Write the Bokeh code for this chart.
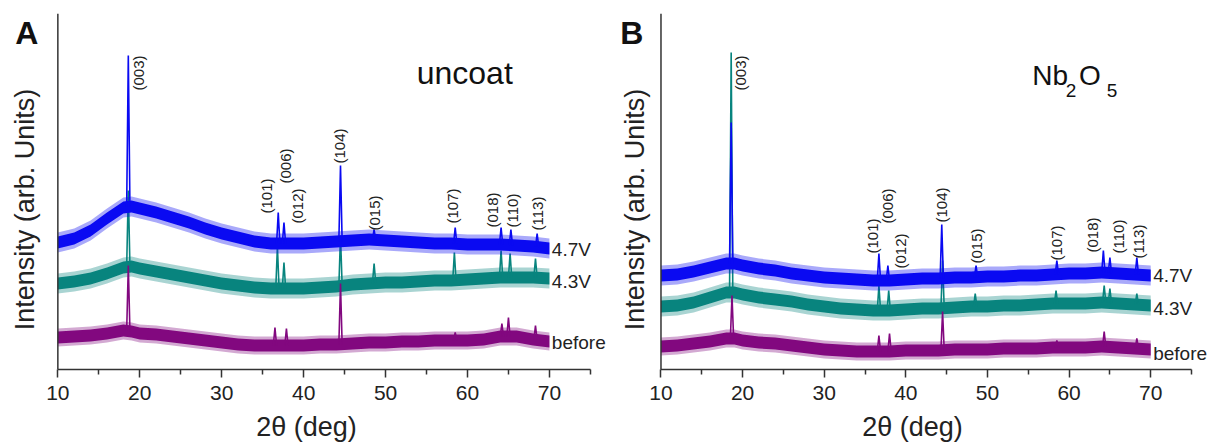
import numpy as np
from bokeh.plotting import figure
from bokeh.layouts import row
from bokeh.models import Label, FixedTicker, Range1d, Span
from bokeh.embed import file_html
from bokeh.resources import INLINE

# ---------------- data (2theta in deg, intensity in arb. units incl. offsets) ----
two_theta = [10, 12, 14, 16, 18, 19, 20, 22, 24, 26, 28, 30, 32, 34, 36, 38,
             40, 42, 44, 46, 48, 50, 52, 54, 56, 58, 60, 62, 64, 66, 68, 70]

# panel A (uncoat) background curves
a_47 = [127, 131, 139, 151, 162, 163, 161, 157, 152, 147, 141, 136, 132, 128, 126, 126,
        126, 127, 128, 129, 130, 129, 128, 127, 126, 126, 125, 125, 125, 124, 123, 121]
a_43 = [86, 88, 91, 96, 102, 103, 101, 98, 95, 92, 89, 86, 84, 82, 81, 81,
        81, 82, 83, 85, 86, 87, 87, 88, 89, 89, 90, 91, 92, 92, 92, 91]
a_bef = [32, 33, 34, 36, 39, 38, 36, 35, 33, 31, 29, 27, 25, 24, 24, 24,
         24, 25, 25, 26, 27, 27, 28, 28, 29, 29, 29, 30, 33, 33, 30, 28]

# panel B (Nb2O5) background curves
b_47 = [94, 95, 98, 102, 106, 106, 104, 101, 99, 96, 94, 92, 91, 90, 89, 89,
        90, 91, 91, 92, 92, 93, 93, 94, 94, 95, 96, 96, 97, 96, 95, 94]
b_43 = [63, 64, 67, 72, 77, 77, 75, 72, 70, 68, 65, 63, 61, 60, 59, 59,
        60, 61, 61, 62, 63, 63, 64, 64, 65, 66, 66, 66, 67, 66, 65, 64]
b_bef = [23, 24, 26, 28, 31, 31, 29, 27, 26, 24, 22, 20, 19, 18, 18, 18,
         19, 19, 19, 20, 20, 20, 21, 21, 21, 22, 22, 22, 23, 22, 21, 20]

# noise band: dense core and fuzzy outer half-widths
noise_core = [6, 6, 6]
noise_outer = [10, 10, 9]

# peaks: positions and top intensities
pk_a_47_x = [18.6, 36.9, 37.6, 44.5, 48.6, 58.5, 64.1, 65.3, 68.5]
pk_a_47_y = [314, 157, 147, 204, 140, 142, 142, 140, 136]
pk_a_43_x = [18.6, 36.8, 37.6, 44.5, 48.6, 58.4, 64.1, 65.2, 68.3]
pk_a_43_y = [179, 123, 107, 134, 106, 117, 119, 116, 111]
pk_a_bef_x = [18.6, 36.5, 37.9, 44.5, 58.5, 64.2, 65.0, 68.3]
pk_a_bef_y = [104, 42, 41, 86, 37, 46, 52, 44]

pk_b_47_x = [18.6, 36.7, 37.8, 44.4, 48.6, 58.5, 64.2, 65.0, 68.3]
pk_b_47_y = [247, 116, 104, 145, 104, 109, 119, 112, 112]
pk_b_43_x = [18.6, 36.7, 37.9, 44.5, 48.5, 58.4, 64.3, 65.0, 68.3]
pk_b_43_y = [317, 84, 79, 109, 76, 79, 84, 81, 76]
pk_b_bef_x = [18.7, 36.7, 38.0, 44.5, 58.5, 64.3, 68.3]
pk_b_bef_y = [74, 34, 36, 58, 29, 38, 31]

hkl = ["(003)", "(101)", "(006)", "(012)", "(104)", "(015)", "(107)", "(018)", "(110)", "(113)"]
hkl_a_x = [19.9, 35.5, 37.8, 39.3, 44.4, 48.6, 58.2, 63.0, 65.5, 68.5]
hkl_a_y = [279, 156, 186, 146, 206, 139, 146, 142, 142, 139]
hkl_b_x = [19.8, 35.9, 37.7, 39.4, 44.4, 48.6, 58.4, 62.9, 66.1, 68.5]
hkl_b_y = [279, 116, 146, 101, 147, 106, 109, 117, 116, 111]

series_names = ["4.7V", "4.3V", "before"]
series_lab_a_y = [120, 88, 27]
series_lab_b_y = [94, 61, 16]

x_major = [10, 20, 30, 40, 50, 60, 70]
x_minor = [15, 25, 35, 45, 55, 65, 75]

# ---------------- style ----------------
COLORS = ["#0a0af2", "#08847e", "#82087f"]   # 4.7V, 4.3V, before
FONT = "Liberation Sans"
TXT = "#222222"
AX = "#333333"


def make_panel(width, x_start, x_end, curves, peaks, hkl_x, hkl_y, lab_y,
               letter, letter_x, ylab_x):
    p = figure(width=width, height=446, output_backend="svg", toolbar_location=None,
               x_range=Range1d(x_start, x_end), y_range=Range1d(0, 356),
               min_border_left=0, min_border_right=0,
               min_border_top=13, min_border_bottom=77)
    p.outline_line_color = None
    p.grid.visible = False
    p.background_fill_color = "white"
    p.border_fill_color = "white"

    # x axis
    xa = p.xaxis[0]
    xa.bounds = (10, 75)
    xa.ticker = FixedTicker(ticks=x_major, minor_ticks=x_minor)
    xa.axis_line_color = AX
    xa.axis_line_width = 1.5
    xa.major_tick_line_color = AX
    xa.minor_tick_line_color = AX
    xa.major_tick_line_width = 1.5
    xa.minor_tick_line_width = 1.5
    xa.major_tick_in = 0
    xa.major_tick_out = 8
    xa.minor_tick_in = 0
    xa.minor_tick_out = 5
    xa.major_label_text_font = FONT
    xa.major_label_text_font_size = "21px"
    xa.major_label_text_color = TXT
    xa.major_label_standoff = 8
    xa.axis_label = "2θ (deg)"
    xa.axis_label_text_font = FONT
    xa.axis_label_text_font_size = "27px"
    xa.axis_label_text_font_style = "normal"
    xa.axis_label_text_color = TXT
    xa.axis_label_standoff = 9

    # y axis: plain line at 2theta = 10
    p.yaxis.visible = False
    p.add_layout(Span(location=10, dimension="height", line_color=AX, line_width=1.5))

    order = [1, 0, 2]  # teal, blue, purple drawing order
    for i in order:
        c = np.array(curves[i], dtype=float)
        p.varea(x=two_theta, y1=c - noise_outer[i], y2=c + noise_outer[i],
                fill_color=COLORS[i], fill_alpha=0.35)
        p.varea(x=two_theta, y1=c - noise_core[i], y2=c + noise_core[i],
                fill_color=COLORS[i], fill_alpha=1.0)
        px, py = peaks[i]
        xs, ys = [], []
        for xx, top in zip(px, py):
            base_l = float(np.interp(xx - 0.2, two_theta, c))
            base_r = float(np.interp(xx + 0.2, two_theta, c))
            xs.append([xx - 0.2, xx, xx + 0.2])
            ys.append([base_l, top, base_r])
        p.multi_line(xs=xs, ys=ys, line_color=COLORS[i], line_width=1.6)

    # peak labels
    for t, hx, hy in zip(hkl, hkl_x, hkl_y):
        p.add_layout(Label(x=hx, y=hy, text=t, angle=np.pi / 2, text_align="left",
                           text_baseline="middle", text_font=FONT,
                           text_font_size="15px", text_color=TXT))
    # series labels
    for name, ly in zip(series_names, lab_y):
        p.add_layout(Label(x=70.3, y=ly, text=name, text_align="left",
                           text_baseline="middle", text_font=FONT,
                           text_font_size="19px", text_color=TXT))
    # panel letter
    p.add_layout(Label(x=letter_x, y=355, text=letter, text_align="left",
                       text_baseline="top", text_font=FONT, text_font_style="bold",
                       text_font_size="32px", text_color="#111111"))
    # y axis title
    p.add_layout(Label(x=ylab_x, y=160, text="Intensity (arb. Units)", angle=np.pi / 2,
                       text_align="center", text_baseline="middle", text_font=FONT,
                       text_font_size="27px", text_color=TXT))
    return p


pa = make_panel(612, 3.0, 77.7, [a_47, a_43, a_bef],
                [(pk_a_47_x, pk_a_47_y), (pk_a_43_x, pk_a_43_y), (pk_a_bef_x, pk_a_bef_y)],
                hkl_a_x, hkl_a_y, series_lab_a_y, "A", 4.8, 6.0)
pb = make_panel(600, 4.06, 77.57, [b_47, b_43, b_bef],
                [(pk_b_47_x, pk_b_47_y), (pk_b_43_x, pk_b_43_y), (pk_b_bef_x, pk_b_bef_y)],
                hkl_b_x, hkl_b_y, series_lab_b_y, "B", 5.0, 6.8)

# titles
pa.add_layout(Label(x=53.8, y=297, text="uncoat", text_align="left",
                    text_baseline="alphabetic", text_font=FONT,
                    text_font_size="32px", text_color="#111111"))
pb.add_layout(Label(x=55.5, y=294, text="Nb", text_align="left",
                    text_baseline="alphabetic", text_font=FONT,
                    text_font_size="28px", text_color="#111111"))
pb.add_layout(Label(x=59.6, y=279, text="2", text_align="left",
                    text_baseline="alphabetic", text_font=FONT,
                    text_font_size="19px", text_color="#111111"))
pb.add_layout(Label(x=61.2, y=294, text="O", text_align="left",
                    text_baseline="alphabetic", text_font=FONT,
                    text_font_size="28px", text_color="#111111"))
pb.add_layout(Label(x=64.6, y=279, text="5", text_align="left",
                    text_baseline="alphabetic", text_font=FONT,
                    text_font_size="19px", text_color="#111111"))

layout = row(pa, pb)
open("out.html", "w").write(file_html(layout, INLINE))
